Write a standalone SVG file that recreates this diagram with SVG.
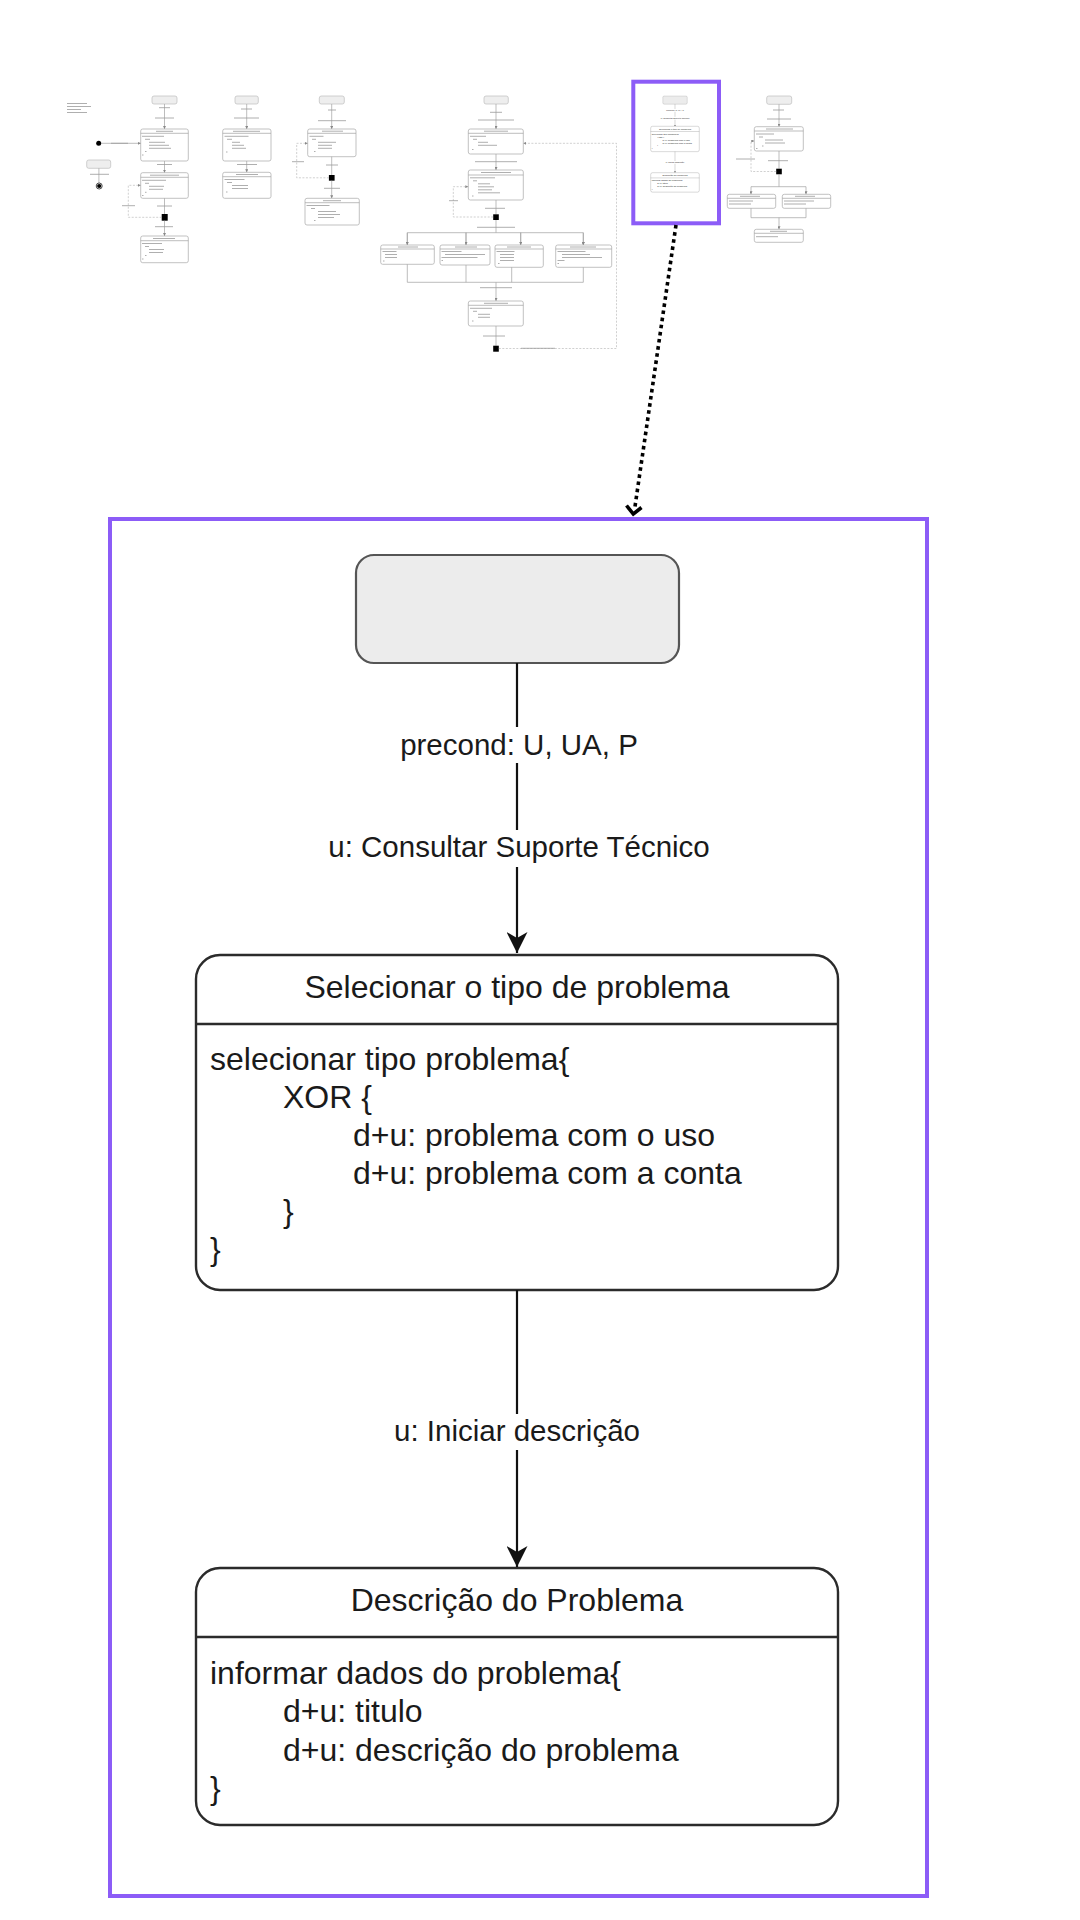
<svg xmlns="http://www.w3.org/2000/svg" xmlns:xlink="http://www.w3.org/1999/xlink" width="1080" height="1920" viewBox="0 0 1080 1920">
<style>
  .node { fill: #ffffff; stroke: #2b2b2b; stroke-width: 2.4; }
  .div { stroke: #2b2b2b; stroke-width: 2.4; }
  .start { fill: #ececec; stroke: #555555; stroke-width: 2.2; }
  .conn { stroke: #111111; stroke-width: 2.2; fill: none; }
  .lbl { font-family: "Liberation Sans", Arial, sans-serif; font-size: 29.5px; fill: #1a1a1a; text-anchor: middle; }
  .ttl { font-family: "Liberation Sans", Arial, sans-serif; font-size: 32px; fill: #1a1a1a; text-anchor: middle; }
  .body { font-family: "Liberation Sans", Arial, sans-serif; font-size: 32px; fill: #1a1a1a; }
  .frame { fill: none; stroke: #8c5cf7; stroke-width: 4; }
  .tn { fill: #ffffff; stroke: #a8a8a8; stroke-width: 0.7; }
  .ts { fill: #eeeeee; stroke: #bdbdbd; stroke-width: 0.7; }
  .tl { fill: none; stroke: #a0a0a0; stroke-width: 0.7; }
  .td { fill: none; stroke: #b0b0b0; stroke-width: 0.6; stroke-dasharray: 2 1.5; }
  .tx { fill: none; stroke: #9a9a9a; stroke-width: 0.8; }
  .tsq { fill: #000000; }
</style>
<defs>
  <marker id="arr" viewBox="0 0 21 21" refX="21" refY="10.5" markerWidth="21" markerHeight="21" markerUnits="userSpaceOnUse" orient="auto">
    <path d="M0,0 L21,10.5 L0,21 L6,10.5 Z" fill="#111111"/>
  </marker>
  <marker id="ta" viewBox="0 0 10 10" refX="10" refY="5" markerWidth="3" markerHeight="3" markerUnits="userSpaceOnUse" orient="auto">
    <path d="M0,0 L10,5 L0,10 Z" fill="#888888"/>
  </marker>
</defs>
<rect width="1080" height="1920" fill="#ffffff"/>

<!-- Thumbnail A -->
<g id="thumb-a">
  <rect class="ts" x="152" y="96" width="25" height="8" rx="2"/>
  <path class="tl" d="M164.5,104 V129" marker-end="url(#ta)"/>
  <rect class="tn" x="140.7" y="129" width="47.6" height="32" rx="2"/>
  <path class="tl" d="M140.7,133.3 H188.3"/>
  <circle cx="98.7" cy="143.3" r="2.5" fill="#000"/>
  <path class="tl" d="M101.2,143.3 H140.7" marker-end="url(#ta)"/>
  <path class="tl" d="M164.5,161 V172.7" marker-end="url(#ta)"/>
  <rect class="tn" x="140.7" y="172.7" width="47.6" height="25.6" rx="2"/>
  <path class="tl" d="M140.7,177.3 H188.3"/>
  <path class="tl" d="M164.5,198.3 V214"/>
  <rect class="tsq" x="161.7" y="214" width="6" height="6.7"/>
  <path class="td" d="M161.7,217.3 H128.3 V185.3 H140.7" marker-end="url(#ta)"/>
  <path class="tl" d="M164.5,220.7 V236" marker-end="url(#ta)"/>
  <rect class="tn" x="140.7" y="236" width="47.6" height="26.7" rx="2"/>
  <path class="tl" d="M140.7,240.7 H188.3"/>
  <rect class="ts" x="86.7" y="160" width="24" height="8.3" rx="2"/>
  <path class="tl" d="M98.9,168.3 V183"/>
  <circle cx="99.2" cy="186" r="3" fill="#fff" stroke="#000" stroke-width="0.7"/>
  <circle cx="99.2" cy="186" r="2.1" fill="#000"/>
  <path class="tx" d="M67,103.5h20 M67,106.5h24 M67,109.5h14 M67,112.5h20 M159,107.7h11 M155,118h19 M156,131.3h17 M142,136.3h22 M145,139.3h5 M149,142.3h16 M149,145.3h20 M149,148.3h22 M145,151.5h1.5 M142,155h1.5 M111,143.3h17 M157,164.5h15 M150,175.2h29 M142,180.3h24 M145,183.3h4 M149,186.3h15 M149,189.3h14 M145,192.3h1.5 M142,195.5h1.5 M157,206h15 M122,205.7h13 M155,226.7h18 M153,238.5h22 M142,243.5h20 M145,246.5h4 M149,249.5h15 M149,252.5h14 M145,255.5h1.5 M142,259h1.5 M90,174.3h19"/>
</g>

<!-- Thumbnail B -->
<g id="thumb-b">
  <rect class="ts" x="235" y="96" width="23.3" height="8" rx="2"/>
  <path class="tl" d="M246.7,104 V129" marker-end="url(#ta)"/>
  <rect class="tn" x="222.7" y="129" width="48.3" height="32" rx="2"/>
  <path class="tl" d="M222.7,133.3 H271"/>
  <path class="tl" d="M246.7,161 V172.3" marker-end="url(#ta)"/>
  <rect class="tn" x="222.7" y="172.3" width="48.3" height="26" rx="2"/>
  <path class="tl" d="M222.7,176.7 H271"/>
  <path class="tx" d="M241,109h11 M234,118h25 M233,131.3h27 M224.5,136.3h24 M227,139.3h5 M232,142.3h8 M232,145.3h12 M232,148.3h14 M226,152h1.5 M237,164.5h20 M236,174.5h22 M224.5,179.5h20 M227,182.5h5 M232,185.5h16 M232,188.5h16 M226,192h1.5"/>
</g>

<!-- Thumbnail C -->
<g id="thumb-c">
  <rect class="ts" x="319.3" y="96" width="25" height="8" rx="2"/>
  <path class="tl" d="M331.7,104 V129" marker-end="url(#ta)"/>
  <rect class="tn" x="307.7" y="129" width="48.3" height="27.7" rx="2"/>
  <path class="tl" d="M307.7,133.3 H356"/>
  <path class="tl" d="M331.7,156.7 V175"/>
  <rect class="tsq" x="328.9" y="175" width="5.7" height="5.7"/>
  <path class="td" d="M328.9,177.8 H296.7 V143.3 H307.7" marker-end="url(#ta)"/>
  <path class="tl" d="M331.7,180.7 V198.3" marker-end="url(#ta)"/>
  <rect class="tn" x="305" y="198.3" width="54.3" height="26.7" rx="2"/>
  <path class="tl" d="M305,202.7 H359.3"/>
  <path class="tx" d="M328,110h8 M318,120.7h28 M322,131.2h21 M309.5,136.3h14 M312,139.3h4 M318,142.3h18 M318,145.3h14 M318,148.3h14 M314,151.5h1.5 M326,165h12 M292,161.7h12 M324,188.3h16 M323,200.7h18 M306.5,205.5h23 M311,208.5h4 M318,211.5h18 M318,214.5h22 M318,217.5h16 M314,220.5h1.5"/>
</g>

<!-- Thumbnail D -->
<g id="thumb-d">
  <rect class="ts" x="484" y="96" width="24.3" height="8" rx="2"/>
  <path class="tl" d="M496,104 V129" marker-end="url(#ta)"/>
  <rect class="tn" x="468.3" y="129" width="55" height="25" rx="2"/>
  <path class="tl" d="M468.3,133.3 H523.3"/>
  <path class="tl" d="M496,154 V170" marker-end="url(#ta)"/>
  <rect class="tn" x="468.3" y="170" width="55" height="30" rx="2"/>
  <path class="tl" d="M468.3,175 H523.3"/>
  <path class="tl" d="M496,200 V214.3"/>
  <rect class="tsq" x="493.2" y="214.3" width="5.6" height="5.7"/>
  <path class="td" d="M493.2,217 H453.3 V186.7 H468.3" marker-end="url(#ta)"/>
  <path class="tl" d="M496,220 V232.7 M407.3,232.7 H583.3"/>
  <path class="tl" d="M407.3,232.7 V245 M466,232.7 V245 M520.7,232.7 V245 M583.3,232.7 V245" marker-end="url(#ta)"/>
  <path class="tl" d="M407.3,232.7 V245" marker-end="url(#ta)"/>
  <path class="tl" d="M466,232.7 V245" marker-end="url(#ta)"/>
  <path class="tl" d="M520.7,232.7 V245" marker-end="url(#ta)"/>
  <path class="tl" d="M583.3,232.7 V245" marker-end="url(#ta)"/>
  <rect class="tn" x="380.7" y="245" width="53.6" height="19.3" rx="2"/>
  <rect class="tn" x="440" y="245" width="50" height="20" rx="2"/>
  <rect class="tn" x="495" y="245" width="48.3" height="22.3" rx="2"/>
  <rect class="tn" x="555.7" y="245" width="56" height="22.3" rx="2"/>
  <path class="tl" d="M380.7,249 H434.3 M440,249 H490 M495,249 H543.3 M555.7,249 H611.7"/>
  <path class="tl" d="M407.3,264.3 V282.3 M466,265 V282.3 M511.7,267.3 V282.3 M583.3,267.3 V282.3 M407.3,282.3 H583.3"/>
  <path class="tl" d="M496,282.3 V301" marker-end="url(#ta)"/>
  <rect class="tn" x="468.3" y="301" width="55" height="25" rx="2"/>
  <path class="tl" d="M468.3,305.3 H523.3"/>
  <path class="tl" d="M496,326 V345.7"/>
  <rect class="tsq" x="493.2" y="345.7" width="5.6" height="6"/>
  <path class="td" d="M498.8,348.5 H616.5 V143.3 H523.3" marker-end="url(#ta)"/>
  <path class="tx" d="M490,112.3h12 M478,120h36 M484,131.2h24 M470,136.3h16 M473,139.3h4 M478,142.3h10 M478,145.3h19 M472,149.5h1.5 M475,161.7h42 M481,172.5h30 M470,177.8h25 M473,180.8h4 M478,183.8h12 M478,186.8h16 M478,189.8h14 M478,192.8h22 M472,196h1.5 M449,200.7h9 M485,208.3h20 M477,227.3h38 M398,247h20 M382.5,251.5h14 M385,254.5h12 M385,257.5h12 M383,261h1.5 M455,247h22 M441.5,251.5h20 M445,254.5h40 M441.5,257.5h36 M441.5,260.5h1.5 M507,247h24 M496.5,251.5h18 M500,254.5h14 M500,257.5h14 M500,260.5h14 M498,263.5h1.5 M570,247h26 M557.5,251.5h28 M562,254.5h28 M562,257.5h40 M557.5,260.5h7 M557.5,263.5h1.5 M480,287.7h32 M484,303.3h24 M470,308.3h22 M473,311.3h4 M478,314.3h12 M478,317.3h12 M472,321h1.5 M483,336h22 M521,348.3h34"/>
</g>

<!-- Thumbnail F -->
<g id="thumb-f">
  <rect class="ts" x="766.7" y="96" width="25" height="8.3" rx="2"/>
  <path class="tl" d="M779,104.3 V126.7" marker-end="url(#ta)"/>
  <rect class="tn" x="754.3" y="126.7" width="49" height="24.3" rx="2"/>
  <path class="tl" d="M754.3,131 H803.3"/>
  <path class="tl" d="M779,151 V168.7"/>
  <rect class="tsq" x="776.2" y="168.7" width="5.6" height="5.6"/>
  <path class="td" d="M776.2,171.5 H751 V141 H754.3" marker-end="url(#ta)"/>
  <path class="tl" d="M779,174.3 V186.7 M751,186.7 H806"/>
  <path class="tl" d="M751,186.7 V194.3" marker-end="url(#ta)"/>
  <path class="tl" d="M806,186.7 V194.3" marker-end="url(#ta)"/>
  <rect class="tn" x="727.3" y="194.3" width="48.4" height="14" rx="2"/>
  <rect class="tn" x="782.3" y="194.3" width="48.4" height="14" rx="2"/>
  <path class="tl" d="M727.3,198.3 H775.7 M782.3,198.3 H830.7"/>
  <path class="tl" d="M751,208.3 V217.7 M806,208.3 V217.7 M751,217.7 H806"/>
  <path class="tl" d="M779,217.7 V229.3" marker-end="url(#ta)"/>
  <rect class="tn" x="754.3" y="229.3" width="49" height="13" rx="2"/>
  <path class="tl" d="M754.3,233.3 H803.3"/>
  <path class="tx" d="M773,110h11 M767,119h24 M766,129h27 M756,134h18 M759,137h4 M765,140h18 M765,143h20 M762,146h1.5 M756,148.5h1.5 M736,159h19 M768,160.7h20 M740,196.3h20 M729,201h24 M729,204h22 M795,196.3h20 M784,201h30 M784,204h22 M770,231.3h17 M756,236.7h22"/>
</g>

<!-- Main (zoomed) diagram -->
<g id="main-diagram">
  <g id="start">
    <rect class="start" x="356" y="555" width="323" height="108" rx="18"/>
  </g>
  <g id="selecionar-tipo-problema">
    <rect class="node" x="196" y="955" width="642" height="335" rx="24"/>
    <line class="div" x1="196" y1="1024" x2="838" y2="1024"/>
    <text class="ttl" x="517" y="998">Selecionar o tipo de problema</text>
    <text class="body" x="210" y="1070">selecionar tipo problema{</text>
    <text class="body" x="283" y="1108">XOR {</text>
    <text class="body" x="353" y="1146">d+u: problema com o uso</text>
    <text class="body" x="353" y="1184">d+u: problema com a conta</text>
    <text class="body" x="283" y="1222">}</text>
    <text class="body" x="210" y="1260">}</text>
  </g>
  <g id="descricao-problema">
    <rect class="node" x="196" y="1568" width="642" height="257" rx="24"/>
    <line class="div" x1="196" y1="1637" x2="838" y2="1637"/>
    <text class="ttl" x="517" y="1611">Descrição do Problema</text>
    <text class="body" x="210" y="1684">informar dados do problema{</text>
    <text class="body" x="283" y="1722">d+u: titulo</text>
    <text class="body" x="283" y="1761">d+u: descrição do problema</text>
    <text class="body" x="210" y="1799">}</text>
  </g>
  <g id="connectors">
    <path class="conn" d="M517,663 V727 M517,763 V830"/>
    <path class="conn" d="M517,867 V953" marker-end="url(#arr)"/>
    <text class="lbl" x="519" y="755">precond: U, UA, P</text>
    <text class="lbl" x="519" y="857">u: Consultar Suporte Técnico</text>
    <path class="conn" d="M517,1290 V1414"/>
    <path class="conn" d="M517,1450 V1567" marker-end="url(#arr)"/>
    <text class="lbl" x="517" y="1441">u: Iniciar descrição</text>
  </g>
</g>

<!-- Thumbnail E (highlighted copy of the main diagram) -->
<g id="thumb-e">
  <use xlink:href="#main-diagram" href="#main-diagram" transform="translate(635.86,53.99) scale(0.0757)"/>
  <rect class="frame" x="633.3" y="81.7" width="85.7" height="141.6"/>
</g>

<!-- Main frame and zoom pointer -->
<g id="zoom-frame">
  <rect class="frame" x="110" y="519" width="817" height="1377"/>
</g>
<g id="zoom-pointer">
  <path d="M676,225 L634.5,510" fill="none" stroke="#000" stroke-width="3.6" stroke-dasharray="3.6 3.6"/>
  <path d="M626.5,505.5 L633.3,514 L641.5,507.5" fill="none" stroke="#000" stroke-width="3.6" stroke-linejoin="miter"/>
</g>
</svg>
